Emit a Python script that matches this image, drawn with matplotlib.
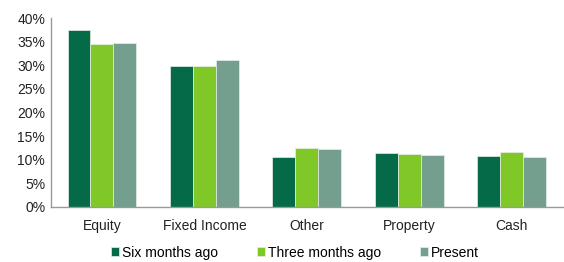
import matplotlib.pyplot as plt
import numpy as np
from matplotlib.ticker import PercentFormatter

plt.rcParams['font.family'] = ['Liberation Sans', 'DejaVu Sans']

categories = ["Equity", "Fixed Income", "Other", "Property", "Cash"]
six_months_ago = [37.5, 29.8, 10.6, 11.5, 10.8]
three_months_ago = [34.5, 29.9, 12.5, 11.3, 11.6]
present = [34.8, 31.1, 12.2, 11.0, 10.5]

series = [
    ("Six months ago", six_months_ago, "#046a48"),
    ("Three months ago", three_months_ago, "#80c828"),
    ("Present", present, "#749e8e"),
]

fig = plt.figure(figsize=(5.64, 2.62), dpi=100)
ax = fig.add_axes([0.090, 0.21, 0.908, 0.721])

x = np.arange(len(categories))
w = 0.224
for i, (label, vals, color) in enumerate(series):
    ax.bar(x + (i - 1) * w, vals, width=w, color=color, label=label,
           edgecolor="#e6efe9", linewidth=0.5)

ax.set_xlim(-0.5, len(categories) - 0.5)
ax.set_ylim(0, 40)
ax.set_yticks(range(0, 41, 5))
ax.yaxis.set_major_formatter(PercentFormatter(decimals=0))
ax.set_xticks(x)
ax.set_xticklabels(categories)
ax.tick_params(axis="both", length=0, labelsize=10, colors="#222222")
ax.tick_params(axis="x", pad=9)
ax.tick_params(axis="y", pad=4)

for side in ["top", "right"]:
    ax.spines[side].set_visible(False)
for side in ["left", "bottom"]:
    ax.spines[side].set_color("#999999")
    ax.spines[side].set_linewidth(1.0)

fig.legend(loc="center", bbox_to_anchor=(0.523, 0.036), ncol=3, frameon=False,
           fontsize=10, handlelength=0.55, handleheight=0.55, handletextpad=0.2,
           columnspacing=2.85, borderpad=0)

fig.savefig("out.png", dpi=100)
